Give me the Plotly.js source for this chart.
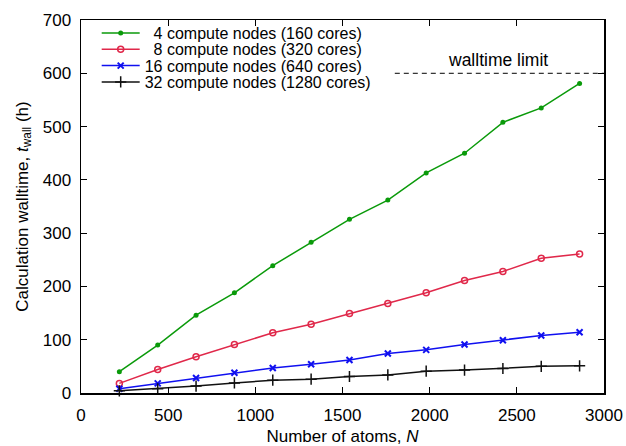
<!DOCTYPE html>
<html>
<head>
<meta charset="utf-8">
<script src="https://cdn.plot.ly/plotly-3.0.1.min.js"></script>
<style>
  html, body { margin: 0; padding: 0; background: #ffffff; }
  #chart { width: 626px; height: 446px; }
</style>
</head>
<body>
<div id="chart"></div>
<script>
// Number of atoms in each benchmark system
const atoms = [220, 440, 660, 880, 1100, 1320, 1540, 1760, 1980, 2200, 2420, 2640, 2860];

// Calculation walltime (hours) for each node count
const wall4nodes  = [40, 90, 146, 188, 239, 283, 326, 362, 413, 450, 508, 535, 581];
const wall8nodes  = [18, 44, 68, 91, 113, 129, 149, 168, 188, 211, 228, 253, 261];
const wall16nodes = [8, 18, 28, 38, 47, 54, 62, 74, 81, 91, 99, 108, 114];
const wall32nodes = [4, 8, 13, 19, 24, 26, 31, 34, 41, 43, 46, 50, 51];

const seriesNames = [
  '\u20074 compute nodes (160 cores)',
  '\u20078 compute nodes (320 cores)',
  '16 compute nodes (640 cores)',
  '32 compute nodes (1280 cores)'
];

// Queue walltime limit (hours) and the atom range it is drawn over
const walltimeLimit = 600;
const limitSpan = [1800, 3000];
const limitLabel = 'walltime limit';
const limitLabelX = 2390;

const xTicks = [0, 500, 1000, 1500, 2000, 2500, 3000];
const yTicks = [0, 100, 200, 300, 400, 500, 600, 700];

const FONT = 'Liberation Sans, Arial, Helvetica, sans-serif';

// Each series gets its own legend box so the key rows can sit close together
const legendIds = ['legend', 'legend2', 'legend3', 'legend4'];
const legendRowY = [0.9651, 0.9214, 0.8775, 0.8338];

function series(y, idx, color, marker) {
  return {
    x: atoms, y: y, name: seriesNames[idx], legend: legendIds[idx],
    type: 'scatter', mode: 'lines+markers',
    line: { color: color, width: 1.5 },
    marker: marker,
    cliponaxis: false
  };
}

const traces = [
  series(wall4nodes, 0, '#0a9a0a',
    { symbol: 'circle', size: 5, color: '#0a9a0a' }),
  series(wall8nodes, 1, '#e0284a',
    { symbol: 'circle-open', size: 6, color: '#e0284a', line: { width: 1.5, color: '#e0284a' } }),
  series(wall16nodes, 2, '#1010f0',
    { symbol: 'x-thin-open', size: 6, color: '#1010f0', line: { width: 2, color: '#1010f0' } }),
  series(wall32nodes, 3, '#111111',
    { symbol: 'cross-thin-open', size: 8, color: '#111111', line: { width: 1.5, color: '#111111' } }),
  {
    x: limitSpan, y: [walltimeLimit, walltimeLimit],
    type: 'scatter', mode: 'lines', showlegend: false, hoverinfo: 'skip',
    line: { color: '#000000', width: 1, dash: '5px,4px' }
  }
];

const axisCommon = {
  showline: true, linecolor: '#000000', linewidth: 1.5,
  mirror: 'ticks', ticks: 'inside', ticklen: 6, tickwidth: 1, tickcolor: '#000000',
  showgrid: false, zeroline: false,
  tickfont: { family: FONT, size: 17, color: '#000000' }
};

const layout = {
  width: 626, height: 446,
  margin: { l: 81, r: 22, t: 20, b: 53 },
  paper_bgcolor: '#ffffff', plot_bgcolor: '#ffffff',
  font: { family: FONT, color: '#000000' },
  showlegend: true,
  xaxis: Object.assign({}, axisCommon, {
    range: [0, 3000], tickvals: xTicks, ticktext: xTicks.map(String),
    ticklabelstandoff: 6,
    title: { text: 'Number of atoms, <i>N</i>', font: { family: FONT, size: 17 }, standoff: 8 }
  }),
  yaxis: Object.assign({}, axisCommon, {
    range: [0, 700], tickvals: yTicks, ticktext: yTicks.map(String),
    ticklabelstandoff: 5,
    title: { text: 'Calculation walltime, <i>t</i><sub>wall</sub> (h)', font: { family: FONT, size: 17 }, standoff: 10 }
  }),
  annotations: [{
    x: limitLabelX, y: walltimeLimit, xref: 'x', yref: 'y',
    text: limitLabel, showarrow: false, yanchor: 'bottom', yshift: 1,
    font: { family: FONT, size: 17.5, color: '#000000' }
  }]
};

legendIds.forEach(function (id, i) {
  layout[id] = {
    x: 0.03, y: legendRowY[i], xanchor: 'left', yanchor: 'middle',
    itemwidth: 38,
    bgcolor: 'rgba(0,0,0,0)', borderwidth: 0,
    font: { family: FONT, size: 16, color: '#000000' }
  };
});

Plotly.newPlot('chart', traces, layout, { staticPlot: true, displayModeBar: false });
</script>
</body>
</html>
